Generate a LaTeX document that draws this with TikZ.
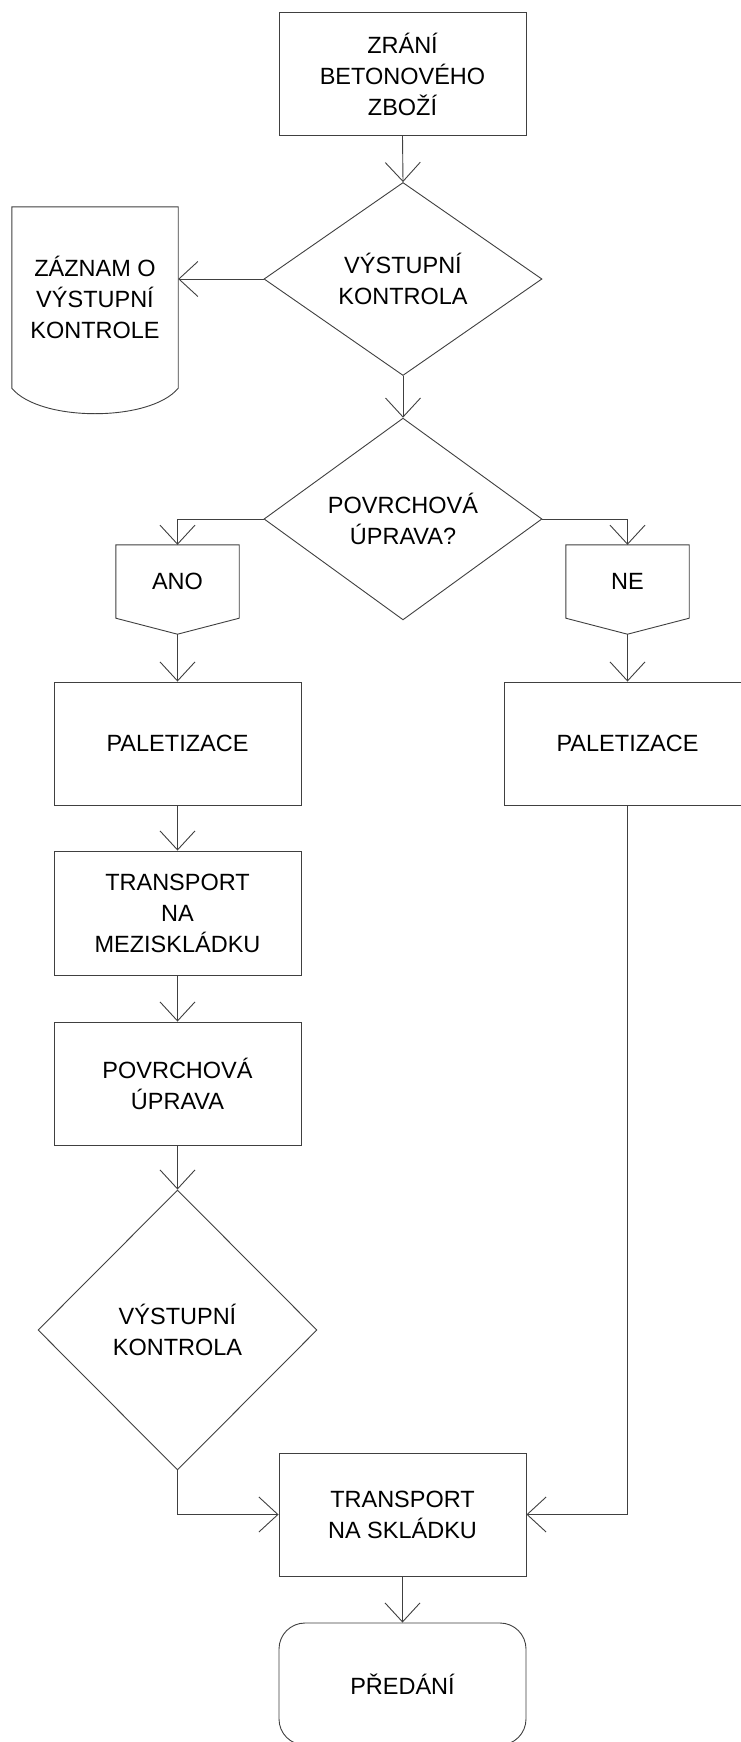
\documentclass[tikz,border=0pt]{standalone}
\usepackage{fontspec}
\setmainfont{Liberation Sans}
\usetikzlibrary{arrows.meta,shapes.geometric,calc}
\definecolor{lc}{HTML}{404040}
\begin{document}
\begin{tikzpicture}[x=1pt,y=-1pt,
  every node/.style={font=\fontsize{23.5}{31}\selectfont, align=center, inner sep=0pt},
  box/.style={draw=lc, line width=0.9pt, rectangle, minimum width=247pt, minimum height=123pt},
  dia/.style={draw=lc, line width=0.9pt, diamond, minimum width=278pt, minimum height=193pt},
  conn/.style={draw=lc, line width=0.9pt},
  arr/.style={conn, -{Straight Barb[length=19pt,width=35pt]}},
  blank/.style={rectangle, minimum width=123pt, minimum height=73pt}
]
\useasboundingbox (0,0) rectangle (741,1742);
\fill[white] (0,0) rectangle (741,1742);

\node[box] (zrani) at (402.5,74) {ZRÁNÍ\\BETONOVÉHO\\ZBOŽÍ};
\node[dia] (vk1) at (403,279) {VÝSTUPNÍ\\KONTROLA};
\node[rectangle, minimum width=166pt, minimum height=181pt] (zaznam) at (95,297.5) {ZÁZNAM O\\VÝSTUPNÍ\\KONTROLE};
\draw[conn] (zaznam.south west) -- (zaznam.north west) -- (zaznam.north east) -- (zaznam.south east)
  .. controls ($(zaznam.south east)+(-28,34)$) and ($(zaznam.south west)+(28,34)$) .. (zaznam.south west);

\node[dia, minimum height=194pt] (povrch) at (403,519) {POVRCHOVÁ\\ÚPRAVA?};

\node[blank] (ano) at (177.5,581.5) {ANO};
\coordinate (anotip) at ($(ano.south)+(0,16)$);
\draw[conn] (ano.north west) -- (ano.north east) -- (ano.south east) -- (anotip) -- (ano.south west) -- cycle;
\node[blank] (ne) at (627.5,581.5) {NE};
\coordinate (netip) at ($(ne.south)+(0,16)$);
\draw[conn] (ne.north west) -- (ne.north east) -- (ne.south east) -- (netip) -- (ne.south west) -- cycle;

\node[box] (pal1) at (177.5,743.5) {PALETIZACE};
\node[box] (pal2) at (627.5,743.5) {PALETIZACE};
\node[box, minimum height=124pt] (trm) at (177.5,913) {TRANSPORT\\NA\\MEZISKLÁDKU};
\node[box] (pu) at (177.5,1083.5) {POVRCHOVÁ\\ÚPRAVA};
\node[dia, minimum width=279pt, minimum height=280pt] (vk2) at (177.5,1330) {VÝSTUPNÍ\\KONTROLA};
\node[box] (trs) at (402.5,1514.5) {TRANSPORT\\NA SKLÁDKU};
\node[box, minimum height=122pt, rounded corners=26pt] (pred) at (402.5,1684) {PŘEDÁNÍ};

\draw[arr] (zrani.south) -- (vk1.north);
\draw[arr] (vk1.west) -- (vk1.west -| zaznam.east);
\draw[arr] (vk1.south) -- (povrch.north);
\draw[arr] (povrch.west) -| (ano.north);
\draw[arr] (povrch.east) -| (ne.north);
\draw[arr] (anotip) -- (pal1.north);
\draw[arr] (netip) -- (pal2.north);
\draw[arr] (pal1.south) -- (trm.north);
\draw[arr] (trm.south) -- (pu.north);
\draw[arr] (pu.south) -- (vk2.north);
\draw[arr] (vk2.south) |- (trs.west);
\draw[arr] (pal2.south) |- (trs.east);
\draw[arr] (trs.south) -- (pred.north);
\end{tikzpicture}
\end{document}
